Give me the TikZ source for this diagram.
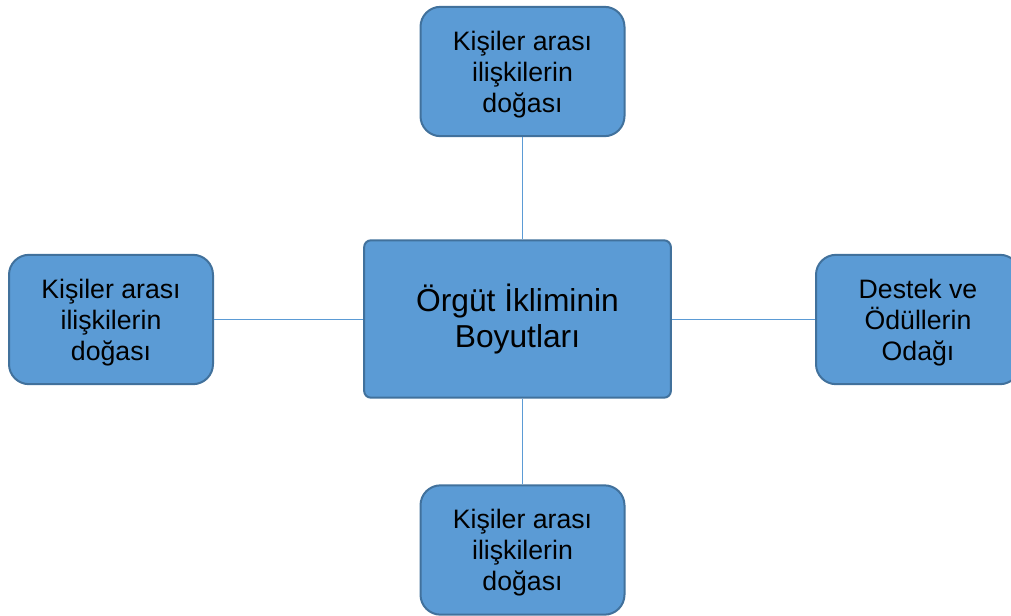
\documentclass[tikz,border=0pt]{standalone}
\usepackage{fontspec}
\setmainfont{Liberation Sans}
\usetikzlibrary{positioning}
\definecolor{boxblue}{HTML}{5B9BD5}
\definecolor{edgeblue}{HTML}{41719C}

\begin{document}
\begin{tikzpicture}[x=0.75pt,y=-0.75pt,
  dim/.style={rounded corners=15pt,draw=edgeblue,fill=boxblue,line width=1.5pt,
    minimum width=153pt,minimum height=97pt,align=center,text depth=0pt,
    font=\fontsize{20}{23.3}\selectfont},
  core/.style={draw=edgeblue,fill=boxblue,line width=1.5pt,rounded corners=5pt,
    minimum width=230pt,minimum height=118pt,align=center,
    font=\fontsize{23.8}{27}\selectfont},
  link/.style={draw=boxblue,line width=0.8pt}]
\useasboundingbox (0,0) rectangle (1011,615);
\clip (0,0) rectangle (1011,615);
\node[core] (climate) at (517.5,319) {Örgüt İkliminin\\Boyutları};
\node[dim] (top) at (522.5,71.5) {Kişiler arası\\ilişkilerin\\doğası};
\node[dim] (left) at (111,319.5) {Kişiler arası\\ilişkilerin\\doğası};
\node[dim] (right) at (918,319.5) {Destek ve\\Ödüllerin\\Odağı};
\node[dim] (bottom) at (522.5,550) {Kişiler arası\\ilişkilerin\\doğası};
\draw[link] (top.south) -- (top.south |- climate.north);
\draw[link] (bottom.north) -- (bottom.north |- climate.south);
\draw[link] (left.east) -- (climate.west |- left.east);
\draw[link] (right.west) -- (climate.east |- right.west);
\end{tikzpicture}
\end{document}
